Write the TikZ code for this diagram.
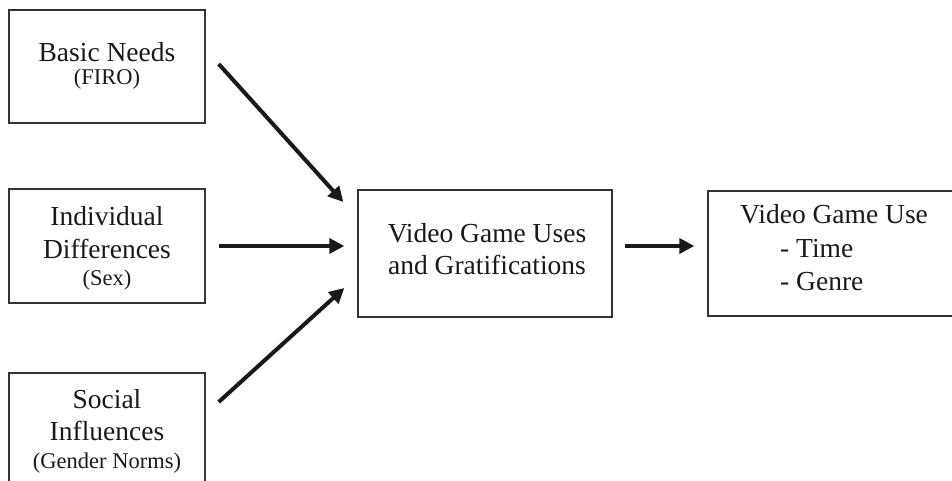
\documentclass[tikz,border=0pt]{standalone}
\usepackage{fontspec}
\setmainfont{Liberation Serif}
\usetikzlibrary{arrows.meta,calc}
\begin{document}
\begin{tikzpicture}[x=1pt,y=-1pt,
  box/.style={draw=black!80, line width=1.4pt, inner sep=0pt, fill=none},
  big/.style={font=\fontsize{27.5}{31}\selectfont, inner sep=0pt, anchor=base, text=black!90},
  small/.style={font=\fontsize{22.5}{25}\selectfont, inner sep=0pt, anchor=base, text=black!90},
  flow/.style={line width=4pt, draw=black!90, -{Triangle[length=15pt,width=15pt]}}]
\useasboundingbox (0,0) rectangle (952,481);
\clip (0,0) rectangle (952,481);

% boxes
\node[box, minimum width=196pt, minimum height=113pt] (needs) at (107,66.5) {};
\node[box, minimum width=196pt, minimum height=114pt] (diff) at (107,246) {};
\node[box, minimum width=196pt, minimum height=114pt] (social) at (107,430) {};
\node[box, minimum width=254pt, minimum height=127pt] (ug) at (485,253.5) {};
\node[box, minimum width=262pt, minimum height=125pt] (use) at (839,253.5) {};

% box texts
\node[big] (needsA) at (107,62) {Basic Needs};
\node[small] (needsB) at (107,85) {(FIRO)};

\node[big] (diffA) at (107,225) {Individual};
\node[big] (diffB) at (107,258) {Differences};
\node[small] (diffC) at (107,285) {(Sex)};

\node[big] (socA) at (107,408) {Social};
\node[big] (socB) at (107,440) {Influences};
\node[small] (socC) at (107,468) {(Gender Norms)};

\node[big] (ugA) at (487,242) {Video Game Uses};
\node[big] (ugB) at (487,274) {and Gratifications};

\node[big, anchor=base west] (useA) at (740,223) {Video Game Use};
\node[big, anchor=base west] (useB) at (780,257) {- Time};
\node[big, anchor=base west] (useC) at (780,290) {- Genre};

% arrows
\draw[flow] ($(needs.east)+(13,-2.5)$) -- ($(ug.west)+(-14,-51.5)$);
\draw[flow] ($(diff.east)+(13,0)$) -- ($(ug.west)+(-13,-7.5)$);
\draw[flow] ($(social.east)+(13,-28)$) -- ($(ug.west)+(-13,34.5)$);
\draw[flow] ($(ug.east)+(12,-7.5)$) -- ($(use.west)+(-13,-7.5)$);
\end{tikzpicture}
\end{document}
